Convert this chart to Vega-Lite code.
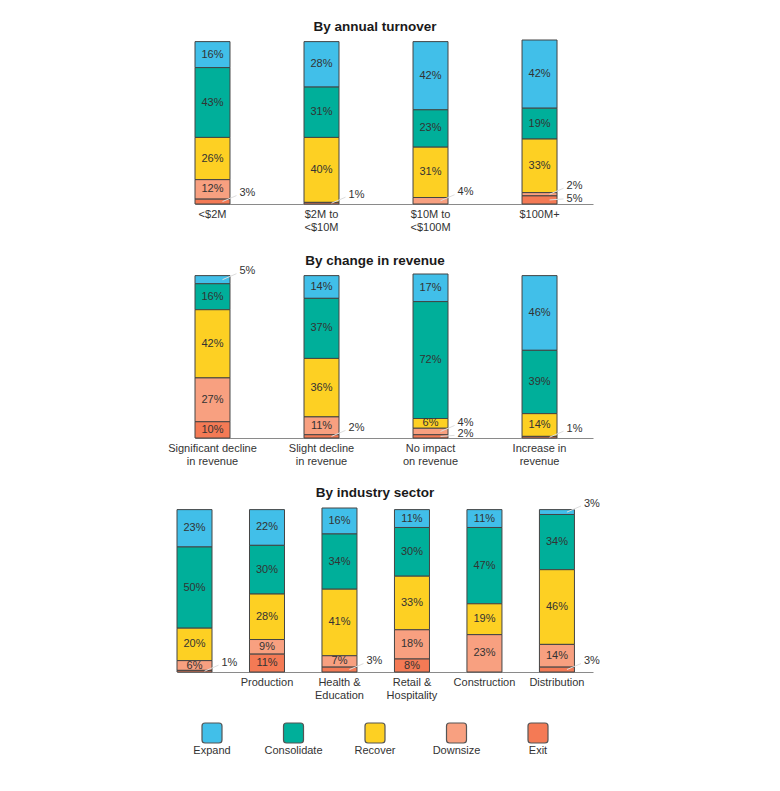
{
  "$schema": "https://vega.github.io/schema/vega-lite/v6.json",
  "background": "white",
  "padding": {"top": 20, "left": 167, "right": 5, "bottom": 5},
  "config": {
    "view": {"stroke": null},
    "font": "Liberation Sans",
    "title": {"fontSize": 13.5, "fontWeight": "bold", "color": "#1a1a1a", "dx": -9, "offset": 6, "font": "Liberation Sans"},
    "axis": {
      "labelFont": "Liberation Sans",
      "labelFontSize": 11,
      "labelColor": "#333333",
      "labelAngle": 0,
      "labelPadding": 4,
      "labelLineHeight": 13,
      "labelOverlap": false,
      "ticks": false,
      "domainColor": "#8a8a8a",
      "title": null
    },
    "text": {"font": "Liberation Sans", "fontSize": 11, "color": "#333333"}
  },
  "datasets": {
    "shares": [
      {"panel": "turnover", "group": "<$2M", "seg": "Expand", "v": 16},
      {"panel": "turnover", "group": "<$2M", "seg": "Consolidate", "v": 43},
      {"panel": "turnover", "group": "<$2M", "seg": "Recover", "v": 26},
      {"panel": "turnover", "group": "<$2M", "seg": "Downsize", "v": 12},
      {"panel": "turnover", "group": "<$2M", "seg": "Exit", "v": 3},
      {"panel": "turnover", "group": "$2M to <$10M", "seg": "Expand", "v": 28},
      {"panel": "turnover", "group": "$2M to <$10M", "seg": "Consolidate", "v": 31},
      {"panel": "turnover", "group": "$2M to <$10M", "seg": "Recover", "v": 40},
      {"panel": "turnover", "group": "$2M to <$10M", "seg": "Exit", "v": 1},
      {"panel": "turnover", "group": "$10M to <$100M", "seg": "Expand", "v": 42},
      {"panel": "turnover", "group": "$10M to <$100M", "seg": "Consolidate", "v": 23},
      {"panel": "turnover", "group": "$10M to <$100M", "seg": "Recover", "v": 31},
      {"panel": "turnover", "group": "$10M to <$100M", "seg": "Downsize", "v": 4},
      {"panel": "turnover", "group": "$100M+", "seg": "Expand", "v": 42},
      {"panel": "turnover", "group": "$100M+", "seg": "Consolidate", "v": 19},
      {"panel": "turnover", "group": "$100M+", "seg": "Recover", "v": 33},
      {"panel": "turnover", "group": "$100M+", "seg": "Downsize", "v": 2},
      {"panel": "turnover", "group": "$100M+", "seg": "Exit", "v": 5},
      {"panel": "revenue", "group": "Significant decline in revenue", "seg": "Expand", "v": 5},
      {"panel": "revenue", "group": "Significant decline in revenue", "seg": "Consolidate", "v": 16},
      {"panel": "revenue", "group": "Significant decline in revenue", "seg": "Recover", "v": 42},
      {"panel": "revenue", "group": "Significant decline in revenue", "seg": "Downsize", "v": 27},
      {"panel": "revenue", "group": "Significant decline in revenue", "seg": "Exit", "v": 10},
      {"panel": "revenue", "group": "Slight decline in revenue", "seg": "Expand", "v": 14},
      {"panel": "revenue", "group": "Slight decline in revenue", "seg": "Consolidate", "v": 37},
      {"panel": "revenue", "group": "Slight decline in revenue", "seg": "Recover", "v": 36},
      {"panel": "revenue", "group": "Slight decline in revenue", "seg": "Downsize", "v": 11},
      {"panel": "revenue", "group": "Slight decline in revenue", "seg": "Exit", "v": 2},
      {"panel": "revenue", "group": "No impact on revenue", "seg": "Expand", "v": 17},
      {"panel": "revenue", "group": "No impact on revenue", "seg": "Consolidate", "v": 72},
      {"panel": "revenue", "group": "No impact on revenue", "seg": "Recover", "v": 6},
      {"panel": "revenue", "group": "No impact on revenue", "seg": "Downsize", "v": 4},
      {"panel": "revenue", "group": "No impact on revenue", "seg": "Exit", "v": 2},
      {"panel": "revenue", "group": "Increase in revenue", "seg": "Expand", "v": 46},
      {"panel": "revenue", "group": "Increase in revenue", "seg": "Consolidate", "v": 39},
      {"panel": "revenue", "group": "Increase in revenue", "seg": "Recover", "v": 14},
      {"panel": "revenue", "group": "Increase in revenue", "seg": "Exit", "v": 1},
      {"panel": "sector", "group": "Other", "seg": "Expand", "v": 23},
      {"panel": "sector", "group": "Other", "seg": "Consolidate", "v": 50},
      {"panel": "sector", "group": "Other", "seg": "Recover", "v": 20},
      {"panel": "sector", "group": "Other", "seg": "Downsize", "v": 6},
      {"panel": "sector", "group": "Other", "seg": "Exit", "v": 1},
      {"panel": "sector", "group": "Production", "seg": "Expand", "v": 22},
      {"panel": "sector", "group": "Production", "seg": "Consolidate", "v": 30},
      {"panel": "sector", "group": "Production", "seg": "Recover", "v": 28},
      {"panel": "sector", "group": "Production", "seg": "Downsize", "v": 9},
      {"panel": "sector", "group": "Production", "seg": "Exit", "v": 11},
      {"panel": "sector", "group": "Health & Education", "seg": "Expand", "v": 16},
      {"panel": "sector", "group": "Health & Education", "seg": "Consolidate", "v": 34},
      {"panel": "sector", "group": "Health & Education", "seg": "Recover", "v": 41},
      {"panel": "sector", "group": "Health & Education", "seg": "Downsize", "v": 7},
      {"panel": "sector", "group": "Health & Education", "seg": "Exit", "v": 3},
      {"panel": "sector", "group": "Retail & Hospitality", "seg": "Expand", "v": 11},
      {"panel": "sector", "group": "Retail & Hospitality", "seg": "Consolidate", "v": 30},
      {"panel": "sector", "group": "Retail & Hospitality", "seg": "Recover", "v": 33},
      {"panel": "sector", "group": "Retail & Hospitality", "seg": "Downsize", "v": 18},
      {"panel": "sector", "group": "Retail & Hospitality", "seg": "Exit", "v": 8},
      {"panel": "sector", "group": "Construction", "seg": "Expand", "v": 11},
      {"panel": "sector", "group": "Construction", "seg": "Consolidate", "v": 47},
      {"panel": "sector", "group": "Construction", "seg": "Recover", "v": 19},
      {"panel": "sector", "group": "Construction", "seg": "Downsize", "v": 23},
      {"panel": "sector", "group": "Distribution", "seg": "Expand", "v": 3},
      {"panel": "sector", "group": "Distribution", "seg": "Consolidate", "v": 34},
      {"panel": "sector", "group": "Distribution", "seg": "Recover", "v": 46},
      {"panel": "sector", "group": "Distribution", "seg": "Downsize", "v": 14},
      {"panel": "sector", "group": "Distribution", "seg": "Exit", "v": 3}
    ],
    "legend": [
      {"seg": "Expand"},
      {"seg": "Consolidate"},
      {"seg": "Recover"},
      {"seg": "Downsize"},
      {"seg": "Exit"}
    ]
  },
  "spacing": 70,
  "bounds": "flush",
  "vconcat": [
    {
      "title": "By annual turnover",
      "width": 418,
      "height": 164,
      "data": {"name": "shares"},
      "transform": [
        {"filter": "datum.panel == 'turnover'"},
        {"calculate": "indexof(['Exit','Downsize','Recover','Consolidate','Expand'], datum.seg)", "as": "order"},
        {"stack": "v", "groupby": ["group"], "sort": [{"field": "order", "order": "ascending"}], "as": ["y0", "y1"]},
        {"calculate": "(datum.y0 + datum.y1) / 2", "as": "mid"},
        {"calculate": "datum.v + '%'", "as": "lbl"},
        {"calculate": "datum.group == '$100M+' && datum.seg == 'Exit'", "as": "level"}
      ],
      "encoding": {
        "x": {
          "field": "group",
          "type": "nominal",
          "sort": ["<$2M", "$2M to <$10M", "$10M to <$100M", "$100M+"],
          "scale": {"range": [20, 418], "paddingInner": 0.679, "paddingOuter": 0.165, "align": 0},
          "axis": {"labelExpr": "split(replace(datum.label, ' to ', ' to|'), '|')"}
        }
      },
      "layer": [
        {
          "mark": {"type": "bar", "stroke": "#444444", "strokeWidth": 1},
          "encoding": {
            "y": {"field": "y0", "type": "quantitative", "scale": {"domain": [0, 101], "nice": false}, "axis": null},
            "y2": {"field": "y1"},
            "color": {
              "field": "seg",
              "type": "nominal",
              "legend": null,
              "scale": {"domain": ["Expand", "Consolidate", "Recover", "Downsize", "Exit"], "range": ["#41bfe9", "#00af9a", "#fdd023", "#f8a080", "#f47a55"]}
            }
          }
        },
        {
          "transform": [{"filter": "datum.v <= 5 && !datum.level"}],
          "mark": {"type": "rule", "color": "#dddddd", "strokeWidth": 1, "xOffset": 10, "x2Offset": 24, "y2Offset": -6},
          "encoding": {"x2": {"field": "group"}, "y": {"field": "mid", "type": "quantitative"}, "y2": {"field": "mid"}}
        },
        {
          "transform": [{"filter": "datum.v <= 5 && datum.level"}],
          "mark": {"type": "rule", "color": "#dddddd", "strokeWidth": 1, "xOffset": 10, "x2Offset": 24, "y2Offset": -1},
          "encoding": {"x2": {"field": "group"}, "y": {"field": "mid", "type": "quantitative"}, "y2": {"field": "mid"}}
        },
        {
          "transform": [{"filter": "datum.v > 5"}],
          "mark": {"type": "text", "baseline": "middle"},
          "encoding": {"y": {"field": "mid", "type": "quantitative"}, "text": {"field": "lbl"}}
        },
        {
          "transform": [{"filter": "datum.v <= 5 && !datum.level"}],
          "mark": {"type": "text", "baseline": "middle", "align": "left", "dx": 27, "dy": -8.5},
          "encoding": {"y": {"field": "mid", "type": "quantitative"}, "text": {"field": "lbl"}}
        },
        {
          "transform": [{"filter": "datum.v <= 5 && datum.level"}],
          "mark": {"type": "text", "baseline": "middle", "align": "left", "dx": 27, "dy": -1},
          "encoding": {"y": {"field": "mid", "type": "quantitative"}, "text": {"field": "lbl"}}
        }
      ]
    },
    {
      "title": {"text": "By change in revenue", "offset": -2},
      "width": 418,
      "height": 164,
      "data": {"name": "shares"},
      "transform": [
        {"filter": "datum.panel == 'revenue'"},
        {"calculate": "indexof(['Exit','Downsize','Recover','Consolidate','Expand'], datum.seg)", "as": "order"},
        {"stack": "v", "groupby": ["group"], "sort": [{"field": "order", "order": "ascending"}], "as": ["y0", "y1"]},
        {"calculate": "(datum.y0 + datum.y1) / 2", "as": "mid"},
        {"calculate": "datum.v + '%'", "as": "lbl"},
        {"calculate": "datum.group == 'No impact on revenue' && datum.seg == 'Exit'", "as": "level"}
      ],
      "encoding": {
        "x": {
          "field": "group",
          "type": "nominal",
          "sort": ["Significant decline in revenue", "Slight decline in revenue", "No impact on revenue", "Increase in revenue"],
          "scale": {"range": [20, 418], "paddingInner": 0.679, "paddingOuter": 0.165, "align": 0},
          "axis": {"labelExpr": "datum.label == 'Increase in revenue' ? ['Increase in', 'revenue'] : split(replace(replace(datum.label, ' in ', '|in '), ' on ', '|on '), '|')"}
        }
      },
      "layer": [
        {
          "mark": {"type": "bar", "stroke": "#444444", "strokeWidth": 1},
          "encoding": {
            "y": {"field": "y0", "type": "quantitative", "scale": {"domain": [0, 101], "nice": false}, "axis": null},
            "y2": {"field": "y1"},
            "color": {
              "field": "seg",
              "type": "nominal",
              "legend": null,
              "scale": {"domain": ["Expand", "Consolidate", "Recover", "Downsize", "Exit"], "range": ["#41bfe9", "#00af9a", "#fdd023", "#f8a080", "#f47a55"]}
            }
          }
        },
        {
          "transform": [{"filter": "datum.v <= 5 && !datum.level"}],
          "mark": {"type": "rule", "color": "#dddddd", "strokeWidth": 1, "xOffset": 10, "x2Offset": 24, "y2Offset": -6},
          "encoding": {"x2": {"field": "group"}, "y": {"field": "mid", "type": "quantitative"}, "y2": {"field": "mid"}}
        },
        {
          "transform": [{"filter": "datum.v <= 5 && datum.level"}],
          "mark": {"type": "rule", "color": "#dddddd", "strokeWidth": 1, "xOffset": 10, "x2Offset": 24, "y2Offset": -1},
          "encoding": {"x2": {"field": "group"}, "y": {"field": "mid", "type": "quantitative"}, "y2": {"field": "mid"}}
        },
        {
          "transform": [{"filter": "datum.v > 5"}],
          "mark": {"type": "text", "baseline": "middle"},
          "encoding": {"y": {"field": "mid", "type": "quantitative"}, "text": {"field": "lbl"}}
        },
        {
          "transform": [{"filter": "datum.v <= 5 && !datum.level"}],
          "mark": {"type": "text", "baseline": "middle", "align": "left", "dx": 27, "dy": -8.5},
          "encoding": {"y": {"field": "mid", "type": "quantitative"}, "text": {"field": "lbl"}}
        },
        {
          "transform": [{"filter": "datum.v <= 5 && datum.level"}],
          "mark": {"type": "text", "baseline": "middle", "align": "left", "dx": 27, "dy": -2},
          "encoding": {"y": {"field": "mid", "type": "quantitative"}, "text": {"field": "lbl"}}
        }
      ]
    },
    {
      "spacing": 51,
      "bounds": "flush",
      "vconcat": [
        {
          "title": {"text": "By industry sector", "offset": -2},
          "width": 418,
          "height": 164,
          "data": {"name": "shares"},
          "transform": [
            {"filter": "datum.panel == 'sector'"},
            {"calculate": "indexof(['Exit','Downsize','Recover','Consolidate','Expand'], datum.seg)", "as": "order"},
            {"stack": "v", "groupby": ["group"], "sort": [{"field": "order", "order": "ascending"}], "as": ["y0", "y1"]},
            {"calculate": "(datum.y0 + datum.y1) / 2", "as": "mid"},
            {"calculate": "datum.v + '%'", "as": "lbl"}
          ],
          "encoding": {
            "x": {
              "field": "group",
              "type": "nominal",
              "sort": ["Other", "Production", "Health & Education", "Retail & Hospitality", "Construction", "Distribution"],
              "scale": {"range": [2, 418], "paddingInner": 0.517, "paddingOuter": 0.128, "align": 0},
              "axis": {"labelExpr": "datum.label == 'Other' ? '' : split(replace(datum.label, '& ', '&|'), '|')"}
            }
          },
          "layer": [
            {
              "mark": {"type": "bar", "stroke": "#444444", "strokeWidth": 1},
              "encoding": {
                "y": {"field": "y0", "type": "quantitative", "scale": {"domain": [0, 101], "nice": false}, "axis": null},
                "y2": {"field": "y1"},
                "color": {
                  "field": "seg",
                  "type": "nominal",
                  "legend": null,
                  "scale": {"domain": ["Expand", "Consolidate", "Recover", "Downsize", "Exit"], "range": ["#41bfe9", "#00af9a", "#fdd023", "#f8a080", "#f47a55"]}
                }
              }
            },
            {
              "transform": [{"filter": "datum.v <= 5"}],
              "mark": {"type": "rule", "color": "#dddddd", "strokeWidth": 1, "xOffset": 10, "x2Offset": 24, "y2Offset": -6},
              "encoding": {"x2": {"field": "group"}, "y": {"field": "mid", "type": "quantitative"}, "y2": {"field": "mid"}}
            },
            {
              "transform": [{"filter": "datum.v > 5"}],
              "mark": {"type": "text", "baseline": "middle"},
              "encoding": {"y": {"field": "mid", "type": "quantitative"}, "text": {"field": "lbl"}}
            },
            {
              "transform": [{"filter": "datum.v <= 5"}],
              "mark": {"type": "text", "baseline": "middle", "align": "left", "dx": 27, "dy": -8.5},
              "encoding": {"y": {"field": "mid", "type": "quantitative"}, "text": {"field": "lbl"}}
            }
          ]
        },
        {
          "width": 418,
          "height": 20,
          "data": {"name": "legend"},
          "encoding": {
            "x": {
              "field": "seg",
              "type": "nominal",
              "sort": ["Expand", "Consolidate", "Recover", "Downsize", "Exit"],
              "scale": {"type": "point", "range": [37, 363], "padding": 0},
              "axis": null
            }
          },
          "layer": [
            {
              "mark": {
                "type": "point",
                "shape": "M -0.7 -1 L 0.7 -1 Q 1 -1 1 -0.7 L 1 0.7 Q 1 1 0.7 1 L -0.7 1 Q -1 1 -1 0.7 L -1 -0.7 Q -1 -1 -0.7 -1 Z",
                "size": 400,
                "filled": true,
                "opacity": 1,
                "stroke": "#555555",
                "strokeWidth": 1.2
              },
              "encoding": {
                "color": {
                  "field": "seg",
                  "type": "nominal",
                  "legend": null,
                  "scale": {"domain": ["Expand", "Consolidate", "Recover", "Downsize", "Exit"], "range": ["#41bfe9", "#00af9a", "#fdd023", "#f8a080", "#f47a55"]}
                }
              }
            },
            {
              "mark": {"type": "text", "dy": 18, "baseline": "middle"},
              "encoding": {"text": {"field": "seg"}}
            }
          ]
        }
      ]
    }
  ]
}
